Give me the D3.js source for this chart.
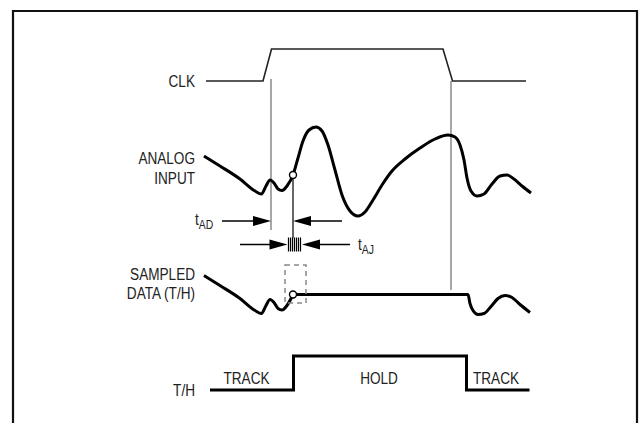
<!DOCTYPE html>
<html>
<head>
<meta charset="utf-8">
<script src="https://cdn.jsdelivr.net/npm/d3@7"></script>
<style>
  body { margin: 0; background: #fff; }
  svg text { font-family: "Liberation Sans", Arial, sans-serif; fill: #222; }
</style>
</head>
<body>
<div id="chart"></div>
<script>
// timing values (time in arbitrary units, amplitudes in arbitrary units)
const clkT = [2, 59, 67.5, 239, 248.5, 322];
const clkLevel = [0, 0, 1, 1, 0, 0];

const analogT = [0, 16, 36, 51, 57.5, 62, 66, 70, 74, 78, 83, 89, 94, 99, 105, 112, 118, 124, 131, 138, 146, 154, 161, 169, 178, 188, 201, 216, 231, 244, 251, 256, 260, 263, 267, 273, 280, 288, 296, 303, 310, 318, 327];
const analogV = [64, 54, 41, 29, 26, 34, 40, 37, 31, 29.5, 34, 45, 62, 79, 90, 93, 89, 75, 50, 25, 9, 4, 8, 20, 35, 49, 61, 72, 81, 85, 83, 75, 60, 42, 29, 24, 26, 36, 44, 45, 41, 34, 27];

const sampleT = 89;      // aperture point
const afterT = [264, 266, 269, 274, 280, 287, 294, 301, 308, 316, 326];
const afterV = [45, 36, 29, 25, 26, 33, 41, 44, 42, 35, 27];

const thT = [6, 89.5, 89.5, 262.5, 262.5, 325.5];
const thLevel = [0, 0, 1, 1, 0, 0];
const thStates = [["TRACK", 42.5], ["HOLD", 175], ["TRACK", 292]];

const rowLabels = [["CLK"], ["ANALOG", "INPUT"], ["SAMPLED", "DATA (T/H)"], ["T/H"]];

const w = 644, h = 423;
const svg = d3.select("#chart").append("svg").attr("width", w).attr("height", h);

// condensed text: regular face squeezed horizontally
const squeeze = 0.8, fs = 17;
function label(px, py, anchor) {
  return svg.append("g").attr("transform", `translate(${px},${py}) scale(${squeeze},1)`)
    .append("text").attr("text-anchor", anchor).attr("font-size", fs);
}

// frame
svg.append("path")
  .attr("d", "M13,423 V11 H637 V423")
  .attr("fill", "none").attr("stroke", "#111").attr("stroke-width", 2.2);

const x = d3.scaleLinear().domain([0, 330]).range([204, 534]);
const yClk = d3.scaleLinear().domain([0, 1]).range([81, 49]);
const yAn = d3.scaleLinear().domain([0, 100]).range([220, 120]);
const ySd = d3.scaleLinear().domain([0, 100]).range([339.5, 239.5]);
const yTh = d3.scaleLinear().domain([0, 1]).range([390, 356]);

// gray reference lines at clock edges
svg.append("line").attr("x1", x(67)).attr("x2", x(67)).attr("y1", 79).attr("y2", 230)
  .attr("stroke", "#8a8a8a").attr("stroke-width", 1.5);
svg.append("line").attr("x1", x(247)).attr("x2", x(247)).attr("y1", 81).attr("y2", 290)
  .attr("stroke", "#8a8a8a").attr("stroke-width", 1.5);

// CLK
const lin = d3.line();
svg.append("path")
  .attr("d", lin(clkT.map((t, i) => [x(t), yClk(clkLevel[i])])))
  .attr("fill", "none").attr("stroke", "#222").attr("stroke-width", 1.6);

// analog input
const smooth = d3.line().curve(d3.curveMonotoneX);
svg.append("path")
  .attr("d", smooth(analogT.map((t, i) => [x(t), yAn(analogV[i])])))
  .attr("fill", "none").attr("stroke", "#000").attr("stroke-width", 3);

// sampled data: track up to sample, hold, then track again
const sampleV = analogV[analogT.indexOf(sampleT)];
const pre = analogT.filter(t => t <= sampleT).map((t, i) => [x(t), ySd(analogV[i])]);
svg.append("path")
  .attr("d", smooth(pre))
  .attr("fill", "none").attr("stroke", "#000").attr("stroke-width", 3);
svg.append("path")
  .attr("d", smooth([[x(sampleT), ySd(sampleV)]].concat(afterT.map((t, i) => [x(t), ySd(afterV[i])]))))
  .attr("fill", "none").attr("stroke", "#000").attr("stroke-width", 3);

// dashed aperture box
svg.append("rect")
  .attr("x", x(81)).attr("y", 265).attr("width", x(102) - x(81)).attr("height", 38)
  .attr("fill", "none").attr("stroke", "#888").attr("stroke-width", 1.5).attr("stroke-dasharray", "5,4");

// sample instant vertical
svg.append("line").attr("x1", x(sampleT)).attr("x2", x(sampleT))
  .attr("y1", yAn(sampleV)).attr("y2", 238).attr("stroke", "#000").attr("stroke-width", 1.2);

// sample circles
[yAn(sampleV), ySd(sampleV)].forEach(cy => {
  svg.append("circle").attr("cx", x(sampleT)).attr("cy", cy).attr("r", 3.5)
    .attr("fill", "#fff").attr("stroke", "#000").attr("stroke-width", 1.4);
});

// arrows
function arrow(x0, tip, y) {
  const dir = tip > x0 ? 1 : -1;
  svg.append("line").attr("x1", x0).attr("x2", tip - dir * 10).attr("y1", y).attr("y2", y)
    .attr("stroke", "#000").attr("stroke-width", 1.5);
  svg.append("path")
    .attr("d", `M${tip},${y} L${tip - dir * 18},${y - 5} L${tip - dir * 18},${y + 5} Z`)
    .attr("fill", "#000");
}
arrow(222, x(67), 221);
arrow(342, x(sampleT), 221);
arrow(240, 287.5, 244.5);
arrow(350, 302, 244.5);

// jitter band
svg.selectAll("line.jit").data(d3.range(7)).enter().append("line")
  .attr("class", "jit")
  .attr("x1", d => 288.5 + d * 2).attr("x2", d => 288.5 + d * 2)
  .attr("y1", 237.5).attr("y2", 251.5)
  .attr("stroke", "#000").attr("stroke-width", 1.2);

// T/H
svg.append("path")
  .attr("d", lin(thT.map((t, i) => [x(t), yTh(thLevel[i])])))
  .attr("fill", "none").attr("stroke", "#000").attr("stroke-width", 3);

thStates.forEach(d => label(x(d[1]), 383.5, "middle").text(d[0]));

// row labels
const labelY = [[87], [163.5, 184], [280, 299], [396]];
rowLabels.forEach((lines, r) => {
  lines.forEach((s, j) => label(195, labelY[r][j], "end").text(s));
});

// timing parameter labels
const tad = label(195, 225, "start");
tad.append("tspan").text("t");
tad.append("tspan").attr("dy", 3.5).attr("font-size", 13).text("AD");
const taj = label(358, 250, "start");
taj.append("tspan").text("t");
taj.append("tspan").attr("dy", 3.5).attr("font-size", 13).text("AJ");
</script>
</body>
</html>
